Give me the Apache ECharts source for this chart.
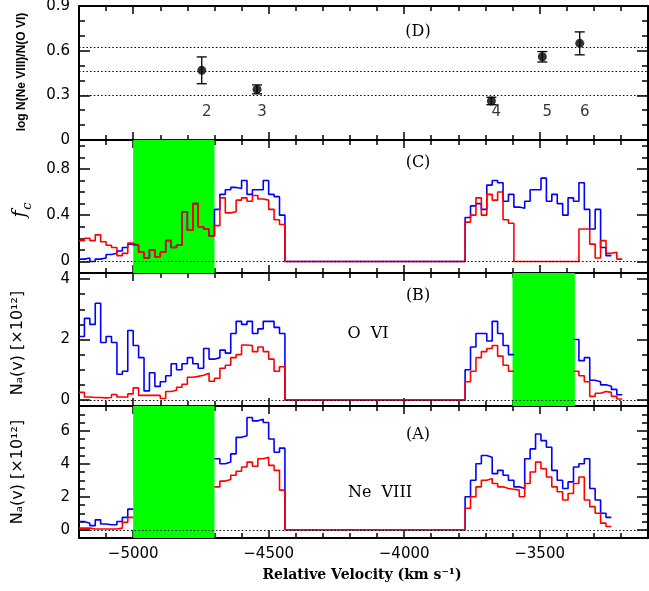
<!DOCTYPE html>
<html>
<head>
<meta charset="utf-8">
<script src="https://cdn.jsdelivr.net/npm/echarts@6/dist/echarts.min.js"></script>
<style>
html, body { margin: 0; padding: 0; background: #fff; }
#main { width: 649px; height: 591px; }
</style>
</head>
<body>
<div id="main"></div>
<script>
// velocity bin edges (km/s)
var leftEdges = [-5200, -5180, -5160, -5140, -5120, -5100, -5080, -5060, -5040, -5020,
  -5000, -4980, -4960, -4940, -4920, -4900, -4880, -4860, -4840, -4820,
  -4800, -4780, -4760, -4740, -4720, -4700, -4680, -4660, -4640, -4620,
  -4600, -4580, -4560, -4540, -4520, -4500, -4480, -4460, -4440];
var rightEdges = [-3775, -3755, -3735, -3715, -3695, -3675, -3655, -3635, -3615, -3595,
  -3575, -3555, -3535, -3515, -3495, -3475, -3455, -3435, -3415, -3395,
  -3375, -3355, -3335, -3315, -3295, -3275, -3255, -3235, -3215, -3195];

// (C) covering fraction
var fcBlueL = [0.02, 0.03, 0.00, 0.02, 0.03, 0.06, 0.07, 0.09, 0.12, 0.15,
  0.14, 0.08, 0.03, 0.10, 0.04, 0.08, 0.18, 0.12, 0.14, 0.43, 0.27, 0.50, 0.30, 0.28, 0.22,
  0.45, 0.58, 0.62, 0.64, 0.63, 0.70, 0.58, 0.62, 0.62, 0.70, 0.58, 0.56, 0.40];
var fcRedL = [0.18, 0.20, 0.18, 0.23, 0.17, 0.14, 0.12, 0.05, 0.07, 0.16,
  0.14, 0.08, 0.03, 0.10, 0.04, 0.08, 0.18, 0.12, 0.14, 0.43, 0.27, 0.50, 0.30, 0.28, 0.22,
  0.31, 0.55, 0.42, 0.43, 0.53, 0.55, 0.52, 0.57, 0.54, 0.53, 0.45, 0.36, 0.32];
var fcBlueR = [0.38, 0.48, 0.50, 0.45, 0.66, 0.70, 0.68, 0.52, 0.58, 0.47, 0.46, 0.52, 0.62, 0.62, 0.72,
  0.52, 0.58, 0.50, 0.40, 0.55, 0.52, 0.68, 0.45, 0.28, 0.45, 0.12, 0.05, null, null];
var fcRedR = [0.34, 0.40, 0.55, 0.40, 0.58, 0.53, 0.60, 0.36, 0.33, 0, 0, 0, 0, 0, 0,
  0, 0, 0, 0, 0, 0, 0.28, 0.28, 0.15, 0.03, 0.18, 0.07, 0.08, 0.02];

// (B) O VI column density
var ovBlueL = [2.1, 2.7, 2.5, 3.2, 1.9, 2.1, 1.9, 0.85, 0.95, 2.3, 1.8, 1.4, 0.3, 0.9, 0.45, 0.6, 0.8, 1.2, 1.0,
  1.2, 1.4, 1.2, 1.05, 1.7, 1.35, 1.4, 1.65, 1.55, 2.2, 2.6, 2.5, 2.6, 2.2, 2.35, 2.6, 2.6, 2.4, 2.2];
var ovRedL = [0.25, 0.1, 0.08, 0.08, 0.07, 0.08, 0.18, 0.1, 0.1, 0.2, 0.4, 0.15, 0.15, 0.15, 0.15, 0.05, 0.28, 0.32, 0.42,
  0.52, 0.75, 0.78, 0.82, 0.88, 0.62, 0.72, 1.05, 1.15, 1.4, 1.5, 1.82, 1.8, 1.6, 1.75, 1.6, 1.35, 0.95, 1.1];
var ovBlueR = [1.0, 1.75, 2.2, 2.2, 1.95, 2.6, 2.2, 1.8, 1.5,
  null, null, null, null, null, null, null, null, null, null, null,
  2.0, 1.3, 1.4, 0.65, 0.6, 0.5, 0.45, 0.35, 0.17];
var ovRedR = [0.6, 0.95, 1.4, 1.6, 1.7, 1.8, 1.45, 1.15, 0.95,
  null, null, null, null, null, null, null, null, null, null, null,
  0.95, 0.8, 0.6, 0.12, 0.22, 0.28, 0.25, 0.12, 0.03];

// (A) Ne VIII column density
var neBlueL = [0.5, 0.4, 0.25, 0.6, 0.35, 0.3, 0.3, 0.5, 0.75, 1.25,
  null, null, null, null, null, null, null, null, null, null, null, null, null, null, null,
  4.3, 4.0, 4.1, 4.6, 5.6, 5.7, 6.8, 6.6, 6.7, 6.5, 5.5, 4.7, 4.95];
var neRedL = [0.1, 0.1, 0.05, 0.05, 0.05, 0.05, 0.05, 0.1, 0.45, 0.75,
  null, null, null, null, null, null, null, null, null, null, null, null, null, null, null,
  2.6, 2.95, 3.05, 3.3, 3.55, 3.8, 4.1, 3.85, 4.3, 4.4, 3.9, 3.6, 2.4];
var neBlueR = [2.0, 3.0, 4.0, 4.5, 4.4, 3.4, 3.6, 3.3, 3.0, 2.6, 2.5, 4.3, 4.9, 5.8, 5.4,
  5.0, 3.6, 3.0, 2.5, 2.9, 3.8, 4.0, 4.3, 2.5, 1.8, 1.0, 0.75, null, null];
var neRedR = [1.3, 2.0, 2.6, 3.0, 3.1, 2.8, 2.6, 2.5, 2.45, 2.4, 2.0, 2.8, 3.5, 4.1, 3.7,
  3.2, 2.6, 2.3, 1.8, 2.2, 2.8, 3.2, 1.8, 1.4, 1.0, 0.4, 0.2, null, null];

// (D) log N(Ne VIII)/N(O VI)
var ratioIds = ['2', '3', '4', '5', '6'];
var ratioVel = [-4747, -4543, -3678, -3490, -3352];
var ratioVal = [0.468, 0.340, 0.262, 0.559, 0.649];
var ratioErr = [0.09, 0.03, 0.025, 0.035, 0.077];
var ratioRefs = [0.30, 0.46, 0.62];

// masked (blended) velocity ranges
var maskAC = [-5000, -4700];
var maskB = [-3600, -3370];

// ticks
var xMajor = [-5000, -4500, -4000, -3500];
var xMinor = [-5100, -4900, -4800, -4700, -4600, -4400, -4300, -4200, -4100,
  -3900, -3800, -3700, -3600, -3400, -3300, -3200];
var yMajor = [[0, 0.3, 0.6, 0.9], [0, 0.4, 0.8], [0, 2, 4], [0, 2, 4, 6]];
var yMinor = [[0.1, 0.2, 0.4, 0.5, 0.7, 0.8],
  [0.1, 0.2, 0.3, 0.5, 0.6, 0.7, 0.9, 1.0],
  [0.5, 1, 1.5, 2.5, 3, 3.5],
  [0.5, 1, 1.5, 2.5, 3, 3.5, 4.5, 5, 5.5, 6.5, 7]];
var yRange = [[0, 0.9], [-0.1, 1.05], [-0.2, 4.2], [-0.5, 7.5]];

var grids = [
  { left: 79, right: 1, top: 6, height: 134 },
  { left: 79, right: 1, top: 140, height: 133 },
  { left: 79, right: 1, top: 273, height: 133 },
  { left: 79, right: 1, top: 406, height: 132 }
];

// histogram -> step vertices
function histo(leftVals, rightVals) {
  var out = [];
  function add(edges, vals) {
    for (var i = 0; i < vals.length; i++) {
      if (vals[i] == null) { out.push([edges[i], '-']); continue; }
      out.push([edges[i], vals[i]], [edges[i + 1], vals[i]]);
    }
  }
  add(leftEdges, leftVals);
  out.push([leftEdges[leftEdges.length - 1], 0], [rightEdges[0], 0]);
  add(rightEdges, rightVals);
  return out;
}

function minusFmt(v) { return String(v).replace('-', '\u2212'); }

var black = '#000';
var xAxes = [], yAxes = [];
for (var g = 0; g < 4; g++) {
  var xb = { type: 'value', gridIndex: g, min: -5200, max: -3100, splitLine: { show: false } };
  xAxes.push(Object.assign({}, xb, {
    position: 'bottom',
    axisLine: { show: true, onZero: false, lineStyle: { color: black, width: 2 } },
    axisTick: { show: true, inside: true, length: 8, customValues: xMajor, lineStyle: { color: black, width: 1.5 } },
    axisLabel: g === 3 ? { show: true, customValues: xMajor, formatter: minusFmt, margin: 9,
      color: black, fontSize: 15, fontFamily: 'DejaVu Sans' } : { show: false }
  }));
  xAxes.push(Object.assign({}, xb, {
    position: 'bottom', axisLine: { show: false, onZero: false },
    axisTick: { show: true, inside: true, length: 5, customValues: xMinor, lineStyle: { color: black, width: 1.5 } },
    axisLabel: { show: false }
  }));
  xAxes.push(Object.assign({}, xb, {
    position: 'top',
    axisLine: { show: true, onZero: false, lineStyle: { color: black, width: 2 } },
    axisTick: { show: true, inside: true, length: 8, customValues: xMajor, lineStyle: { color: black, width: 1.5 } },
    axisLabel: { show: false }
  }));
  xAxes.push(Object.assign({}, xb, {
    position: 'top', axisLine: { show: false, onZero: false },
    axisTick: { show: true, inside: true, length: 5, customValues: xMinor, lineStyle: { color: black, width: 1.5 } },
    axisLabel: { show: false }
  }));

  var yb = { type: 'value', gridIndex: g, min: yRange[g][0], max: yRange[g][1], splitLine: { show: false } };
  yAxes.push(Object.assign({}, yb, {
    position: 'left',
    axisLine: { show: true, onZero: false, lineStyle: { color: black, width: 2 } },
    axisTick: { show: true, inside: true, length: 11, customValues: yMajor[g], lineStyle: { color: black, width: 1.5 } },
    axisLabel: { show: true, customValues: yMajor[g], margin: 9, color: black, fontSize: 15, fontFamily: 'DejaVu Sans' }
  }));
  yAxes.push(Object.assign({}, yb, {
    position: 'left', axisLine: { show: false, onZero: false },
    axisTick: { show: true, inside: true, length: 6, customValues: yMinor[g], lineStyle: { color: black, width: 1.5 } },
    axisLabel: { show: false }
  }));
  yAxes.push(Object.assign({}, yb, {
    position: 'right',
    axisLine: { show: true, onZero: false, lineStyle: { color: black, width: 2 } },
    axisTick: { show: true, inside: true, length: 11, customValues: yMajor[g], lineStyle: { color: black, width: 1.5 } },
    axisLabel: { show: false }
  }));
  yAxes.push(Object.assign({}, yb, {
    position: 'right', axisLine: { show: false, onZero: false },
    axisTick: { show: true, inside: true, length: 6, customValues: yMinor[g], lineStyle: { color: black, width: 1.5 } },
    axisLabel: { show: false }
  }));
}

var dotted = { color: black, type: [1.5, 2.2], width: 1.2 };
function zeroLine() {
  return { silent: true, symbol: ['none', 'none'], label: { show: false }, lineStyle: dotted, data: [{ yAxis: 0 }] };
}
function maskSeries(g, range, z) {
  return {
    type: 'line', xAxisIndex: 4 * g, yAxisIndex: 4 * g, data: [], z: z,
    markArea: { silent: true, itemStyle: { color: '#00ff00', opacity: 1 }, data: [[{ xAxis: range[0] }, { xAxis: range[1] }]] }
  };
}
function specSeries(g, data, color, z, withZero) {
  var s = {
    type: 'line', xAxisIndex: 4 * g, yAxisIndex: 4 * g, data: data, z: z,
    showSymbol: false, symbol: 'none', connectNulls: false,
    lineStyle: { color: color, width: 1.6 }
  };
  if (withZero) s.markLine = zeroLine();
  return s;
}

var errData = [], ptData = [], idData = [];
for (var i = 0; i < ratioVel.length; i++) {
  errData.push([ratioVel[i], ratioVal[i], ratioErr[i]]);
  ptData.push([ratioVel[i], ratioVal[i]]);
  idData.push({ value: [ratioVel[i], 0.19], name: ratioIds[i] });
}

var series = [
  {
    type: 'custom', xAxisIndex: 0, yAxisIndex: 0, data: errData, encode: { x: 0, y: 1 }, z: 3,
    renderItem: function (params, api) {
      var x = api.value(0), y = api.value(1), e = api.value(2);
      var t = api.coord([x, y + e]), b = api.coord([x, y - e]);
      var st = { stroke: black, lineWidth: 1.3 };
      return { type: 'group', children: [
        { type: 'line', shape: { x1: t[0], y1: t[1], x2: b[0], y2: b[1] }, style: st },
        { type: 'line', shape: { x1: t[0] - 5, y1: t[1], x2: t[0] + 5, y2: t[1] }, style: st },
        { type: 'line', shape: { x1: b[0] - 5, y1: b[1], x2: b[0] + 5, y2: b[1] }, style: st }
      ] };
    },
    markLine: { silent: true, symbol: ['none', 'none'], label: { show: false }, lineStyle: dotted,
      data: ratioRefs.map(function (v) { return { yAxis: v }; }) }
  },
  { type: 'scatter', xAxisIndex: 0, yAxisIndex: 0, data: ptData, symbol: 'circle', symbolSize: 9,
    itemStyle: { color: black }, z: 4 },
  { type: 'scatter', xAxisIndex: 0, yAxisIndex: 0, data: idData, symbolSize: 1, itemStyle: { color: 'rgba(0,0,0,0)' },
    label: { show: true, position: 'inside', offset: [5, 0], formatter: '{b}', color: black, fontSize: 15, fontFamily: 'DejaVu Sans' } },

  maskSeries(1, maskAC, 1),
  specSeries(1, histo(fcBlueL, fcBlueR), '#0000ff', 2, true),
  specSeries(1, histo(fcRedL, fcRedR), '#ff0000', 3, false),

  specSeries(2, histo(ovBlueL, ovBlueR), '#0000ff', 2, true),
  specSeries(2, histo(ovRedL, ovRedR), '#ff0000', 3, false),
  maskSeries(2, maskB, 5),

  specSeries(3, histo(neBlueL, neBlueR), '#0000ff', 2, true),
  specSeries(3, histo(neRedL, neRedR), '#ff0000', 3, false),
  maskSeries(3, maskAC, 5)
];

function txt(x, y, text, font, rot) {
  return { type: 'text', x: x, y: y, rotation: rot || 0, z: 10, silent: true,
    style: { text: text, font: font, fill: black, textAlign: 'center', textVerticalAlign: 'middle',
      align: 'center', verticalAlign: 'middle' } };
}
var R = Math.PI / 2;
var graphics = [
  txt(418, 32, '(D)', '16px "DejaVu Serif"'),
  txt(418, 163, '(C)', '16px "DejaVu Serif"'),
  txt(418, 296, '(B)', '16px "DejaVu Serif"'),
  txt(418, 435, '(A)', '16px "DejaVu Serif"'),
  txt(368, 334, 'O  VI', '16px "DejaVu Serif"'),
  txt(380, 493, 'Ne  VIII', '16px "DejaVu Serif"'),
  txt(362, 575, 'Relative Velocity (km s\u207B\u00B9)', 'bold 14px "DejaVu Serif"'),
  txt(22, 72, 'log N(Ne VIII)/N(O VI)', 'bold 12px "Liberation Sans"', R),
  txt(20, 214, 'f', 'italic 19px "DejaVu Serif"', R),
  txt(28, 206, 'c', 'italic 13px "DejaVu Serif"', R),
  txt(18, 343, 'N\u2090(v) [\u00D710\u00B9\u00B2]', '16px "DejaVu Sans"', R),
  txt(18, 472, 'N\u2090(v) [\u00D710\u00B9\u00B2]', '16px "DejaVu Sans"', R)
];

var chart = echarts.init(document.getElementById('main'));
chart.setOption({
  animation: false,
  backgroundColor: '#fff',
  grid: grids.map(function (gr) { return Object.assign({ containLabel: false, outerBoundsMode: 'none' }, gr); }),
  xAxis: xAxes,
  yAxis: yAxes,
  series: series,
  graphic: graphics
});
</script>
</body>
</html>
